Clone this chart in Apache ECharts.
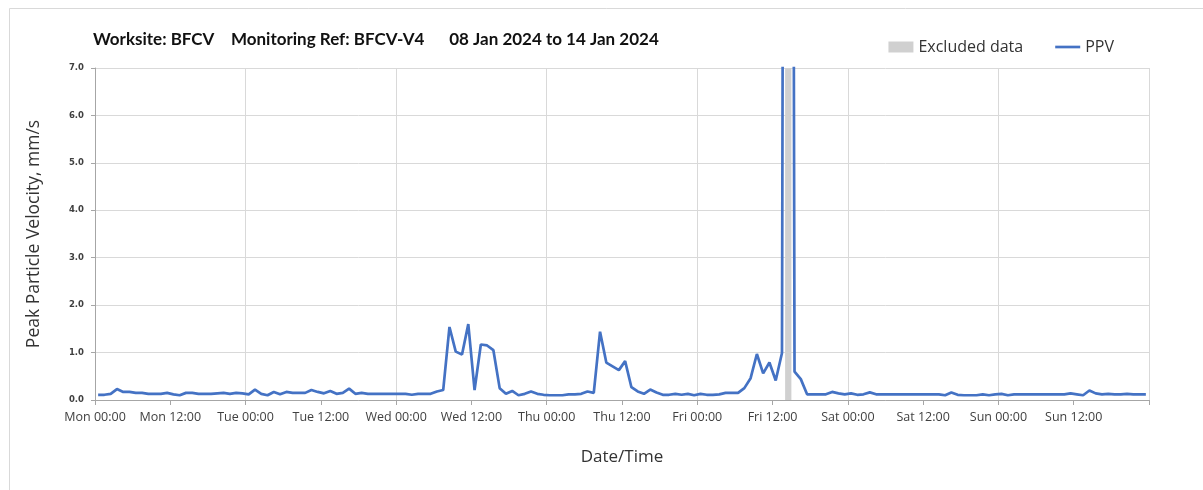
<!DOCTYPE html>
<html>
<head>
<meta charset="utf-8">
<script src="https://cdn.jsdelivr.net/npm/echarts@6/dist/echarts.min.js"></script>
<style>
  html, body { margin: 0; padding: 0; background: #fff; }
  #chart { width: 1203px; height: 490px; }
</style>
</head>
<body>
<div id="chart"></div>
<script>
// x tick labels, one every 12 hours from Mon 00:00
const tickLabels = [
  'Mon 00:00', 'Mon 12:00', 'Tue 00:00', 'Tue 12:00', 'Wed 00:00', 'Wed 12:00',
  'Thu 00:00', 'Thu 12:00', 'Fri 00:00', 'Fri 12:00', 'Sat 00:00', 'Sat 12:00',
  'Sun 00:00', 'Sun 12:00'
];

// hourly PPV (mm/s), one reading per hour starting Mon 00:30
const ppvMon = [0.11, 0.11, 0.13, 0.23, 0.17, 0.17, 0.15, 0.15, 0.13, 0.13, 0.13, 0.15,
                0.12, 0.10, 0.15, 0.15, 0.13, 0.13, 0.13, 0.14, 0.15, 0.13, 0.15, 0.14];
const ppvTue = [0.12, 0.22, 0.13, 0.10, 0.17, 0.12, 0.17, 0.15, 0.15, 0.15, 0.21, 0.17,
                0.14, 0.19, 0.13, 0.15, 0.24, 0.13, 0.15, 0.13, 0.13, 0.13, 0.13, 0.13];
const ppvWed = [0.13, 0.13, 0.11, 0.13, 0.13, 0.13, 0.18, 0.21, 1.54, 1.02, 0.96, 1.60,
                0.21, 1.17, 1.15, 1.05, 0.25, 0.13, 0.19, 0.10, 0.13, 0.18, 0.13, 0.11];
const ppvThu = [0.10, 0.10, 0.10, 0.12, 0.12, 0.13, 0.18, 0.15, 1.44, 0.79, 0.71, 0.63,
                0.82, 0.27, 0.18, 0.13, 0.22, 0.16, 0.11, 0.11, 0.13, 0.11, 0.13, 0.10];
const ppvFri = [0.13, 0.11, 0.11, 0.12, 0.15, 0.15, 0.15, 0.25, 0.46, 0.97, 0.56, 0.79,
                0.41, 0.99, 60.0, 0.60, 0.44, 0.12, 0.12, 0.12, 0.12, 0.17, 0.14, 0.12];
const ppvSat = [0.14, 0.11, 0.12, 0.16, 0.12, 0.12, 0.12, 0.12, 0.12, 0.12, 0.12, 0.12,
                0.12, 0.12, 0.12, 0.10, 0.16, 0.11, 0.10, 0.10, 0.10, 0.12, 0.10, 0.12];
const ppvSun = [0.13, 0.10, 0.12, 0.12, 0.12, 0.12, 0.12, 0.12, 0.12, 0.12, 0.12, 0.14,
                0.12, 0.10, 0.20, 0.14, 0.12, 0.13, 0.12, 0.12, 0.13, 0.12, 0.12, 0.12];

// excluded window, hours from Mon 00:00
const excludedFrom = 110;
const excludedTo = 111;

const ppv = [].concat(ppvMon, ppvTue, ppvWed, ppvThu, ppvFri, ppvSat, ppvSun);
const ppvPoints = ppv.map((v, i) => [i + 0.5, v]);

const chart = echarts.init(document.getElementById('chart'));

const font = "'Open Sans', 'Noto Sans', sans-serif";

const option = {
  backgroundColor: '#fff',
  animation: false,
  graphic: [{
    type: 'rect',
    shape: { x: 9.5, y: 8.5, width: 1200, height: 500 },
    style: { fill: 'none', stroke: '#d9d9d9', lineWidth: 1 }
  }, {
    type: 'text',
    left: 93,
    top: 31,
    style: {
      text: 'Worksite: BFCV    Monitoring Ref: BFCV-V4      08 Jan 2024 to 14 Jan 2024',
      font: "bold 17px 'Lato', sans-serif",
      fill: '#111'
    }
  }],
  legend: {
    right: 84,
    top: 34,
    itemWidth: 25,
    itemHeight: 11,
    itemGap: 32,
    textStyle: { fontFamily: font, fontSize: 16, color: '#333' },
    data: [
      { name: 'Excluded data', icon: 'rect', itemStyle: { color: '#d0d0d0' } },
      { name: 'PPV', icon: 'path://M0,0h28v3h-28z', itemStyle: { color: '#4472c4' } }
    ]
  },
  grid: { left: 95, right: 54, top: 68, bottom: 90 },
  xAxis: [{
    type: 'value',
    min: 0,
    max: 168,
    interval: 12,
    name: 'Date/Time',
    nameLocation: 'middle',
    nameGap: 49,
    nameTextStyle: { fontFamily: font, fontSize: 17, color: '#333' },
    axisLine: { lineStyle: { color: '#a6a6a6' } },
    axisTick: { length: 5, lineStyle: { color: '#a6a6a6' } },
    axisLabel: {
      fontFamily: font, fontSize: 12.5, color: '#404040', margin: 11,
      formatter: (v) => tickLabels[v / 12] || ''
    },
    splitLine: { show: false }
  }, {
    type: 'value',
    min: 0,
    max: 168,
    interval: 24,
    position: 'bottom',
    axisLine: { show: false },
    axisTick: { show: false },
    axisLabel: { show: false },
    splitLine: { show: true, lineStyle: { color: '#d9d9d9' } }
  }],
  yAxis: {
    type: 'value',
    min: 0,
    max: 7,
    interval: 1,
    name: 'Peak Particle Velocity, mm/s',
    nameLocation: 'middle',
    nameGap: 52,
    nameTextStyle: { fontFamily: font, fontSize: 17.5, color: '#333' },
    axisLine: { show: true, lineStyle: { color: '#a6a6a6' } },
    axisTick: { show: true, length: 4, lineStyle: { color: '#a6a6a6' } },
    axisLabel: {
      fontFamily: "'DejaVu Sans', sans-serif", fontSize: 8.5, fontWeight: 'bold', color: '#404040', margin: 11,
      formatter: (v) => v.toFixed(1)
    },
    splitLine: { lineStyle: { color: '#d9d9d9' } }
  },
  series: [{
    name: 'Excluded data',
    type: 'line',
    data: [],
    itemStyle: { color: '#d0d0d0' },
    markArea: {
      silent: true,
      itemStyle: { color: '#d0d0d0' },
      data: [[{ xAxis: excludedFrom }, { xAxis: excludedTo }]]
    }
  }, {
    name: 'PPV',
    type: 'line',
    symbol: 'none',
    data: ppvPoints,
    z: 5,
    itemStyle: { color: '#4472c4' },
    lineStyle: { color: '#4472c4', width: 2.7 }
  }]
};

chart.setOption(option);
</script>
</body>
</html>
